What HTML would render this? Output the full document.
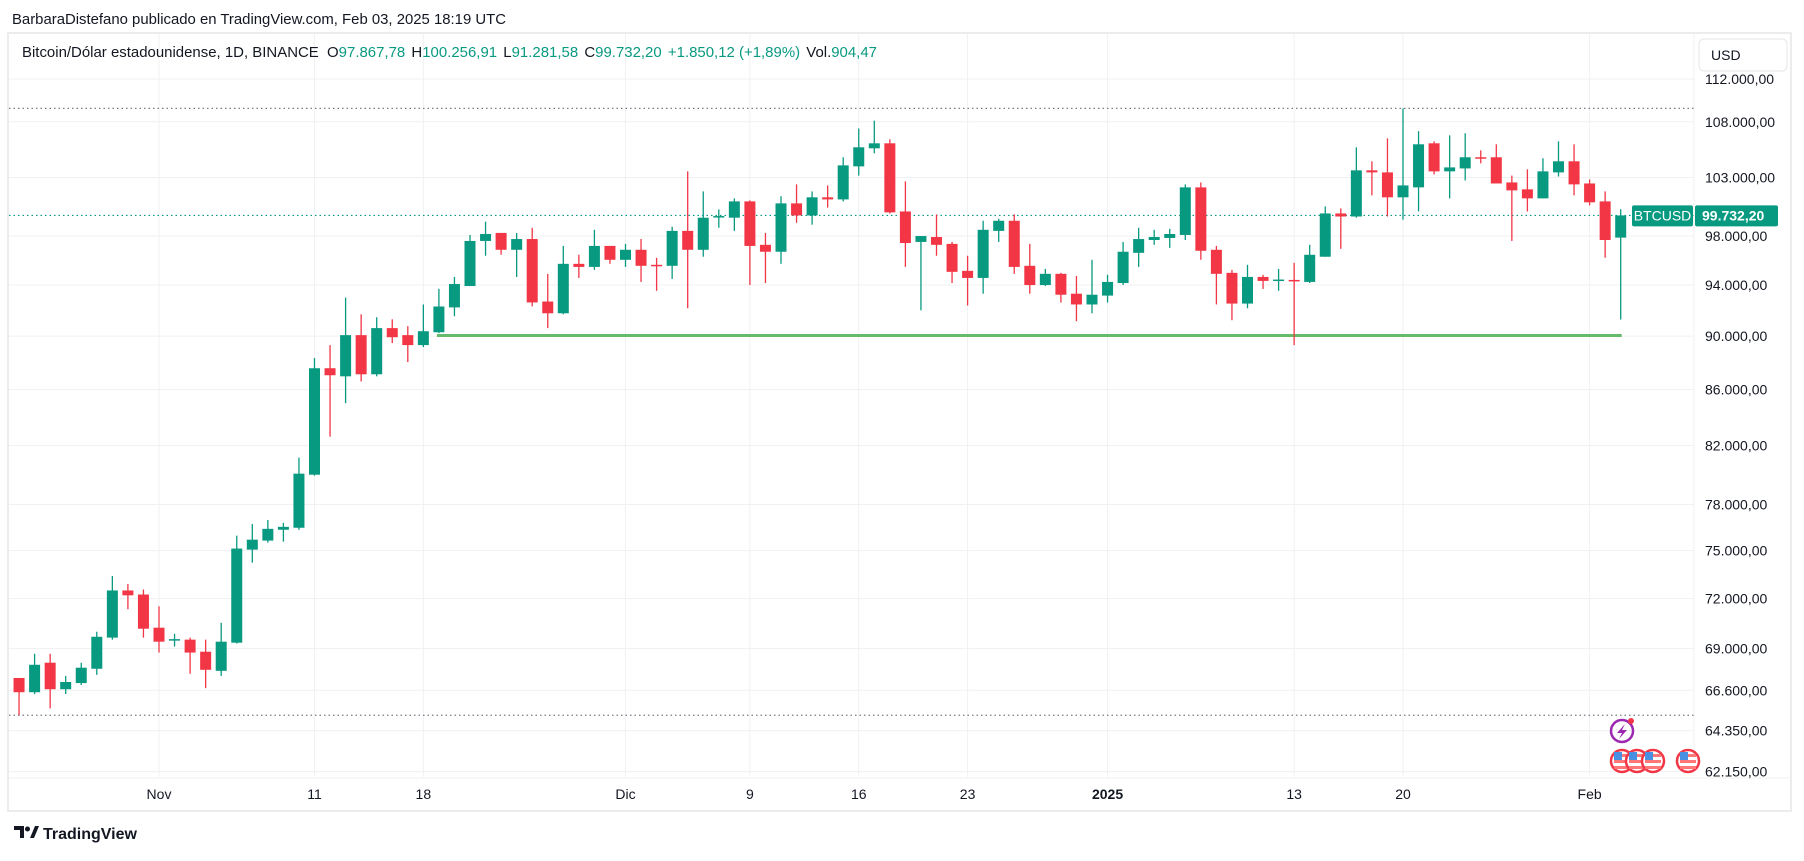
<!DOCTYPE html>
<html><head><meta charset="utf-8">
<style>
html,body{margin:0;padding:0;background:#fff;}
body{width:1804px;height:856px;overflow:hidden;font-family:"Liberation Sans",sans-serif;}
svg text{font-family:"Liberation Sans",sans-serif;}
</style></head>
<body>
<svg id="chart" width="1804" height="856" viewBox="0 0 1804 856" xmlns="http://www.w3.org/2000/svg">
<rect x="0" y="0" width="1804" height="856" fill="#fff"/>
<text x="12" y="24" font-size="14.5" fill="#131722" textLength="494" lengthAdjust="spacingAndGlyphs">BarbaraDistefano publicado en TradingView.com, Feb 03, 2025 18:19 UTC</text>
<rect x="8" y="33" width="1783" height="778" fill="none" stroke="#ececec" stroke-width="2"/>
<g id="grid"></g>
<defs><clipPath id="plotclip"><rect x="9" y="34" width="1685" height="743"/></clipPath></defs>
<g id="plot" clip-path="url(#plotclip)"></g>
<g id="yaxis"></g>
<g id="xaxis"></g>
<text x="22" y="57" font-size="14.5" fill="#131722" textLength="855" lengthAdjust="spacingAndGlyphs">Bitcoin/Dólar estadounidense, 1D, BINANCE <tspan dx="4">O</tspan><tspan fill="#089981">97.867,78</tspan><tspan dx="6">H</tspan><tspan fill="#089981">100.256,91</tspan><tspan dx="6">L</tspan><tspan fill="#089981">91.281,58</tspan><tspan dx="6">C</tspan><tspan fill="#089981">99.732,20</tspan><tspan dx="6" fill="#089981">+1.850,12 (+1,89%)</tspan><tspan dx="6">Vol.</tspan><tspan fill="#089981">904,47</tspan></text>
<g>
<rect x="1699" y="39" width="88" height="32" rx="5" fill="#fff" stroke="#e6e6e6"/>
<text x="1711" y="60" font-size="14" fill="#131722">USD</text>
</g>
<g>
<circle cx="1622" cy="731" r="11" fill="none" stroke="#9c27b0" stroke-width="2.5"/>
<path d="M1625 724 L1617 733 L1622 733 L1619 739 L1627 730 L1622 730 Z" fill="#9c27b0"/>
<circle cx="1631" cy="721" r="3" fill="#f23645"/>
</g>
<g id="flags"></g>
<g>
<path d="M14 826 h10 v12 h-4 v-8 h-6 z" fill="#131722"/><circle cx="27.5" cy="829" r="2.5" fill="#131722"/><path d="M30 838 l5 -12 h4 l-5 12 z" fill="#131722"/>
<text x="43" y="839" font-size="16" font-weight="bold" fill="#131722">TradingView</text>
</g>
</svg>
<script>
const priceTicks=[112000,108000,103000,98000,94000,90000,86000,82000,78000,75000,72000,69000,66600,64350,62150];
const dateTickDays=[0,10,17,30,38,45,52,61,73,80,92];
const dateTickLabels=['Nov','11','18','Dic','9','16','23','2025','13','20','Feb'];
const firstDay=-9;
const opens=[67300,66490,68180,66660,67010,67830,69650,72500,72250,
70240,69530,69530,68820,67710,69350,75060,75640,76340,76470,
80000,87580,86980,90080,87130,90620,90080,89320,90300,92230,
93920,97590,98260,96860,97750,92690,91770,95710,95460,97180,
96040,96860,95630,95550,98430,96860,99640,99540,100930,97270,
96700,100760,99730,101280,101100,103980,105590,106040,100070,97510,
97920,97350,95140,94570,98430,99280,95550,94000,94900,93310,
92460,93160,94160,96610,97670,97840,98090,102140,96860,94980,
92530,94650,94410,94410,94250,96290,99900,99640,103630,103450,
101280,102140,106040,103540,103800,104790,104790,102570,101970,101190,
103450,104430,102480,100930,97867.78];
const highs=[67300,68700,68700,67420,68180,70000,73400,72900,72560,
71530,69880,69650,69530,70530,75960,76720,76980,76790,81170,
88340,89320,93000,91690,91460,91300,90770,92460,93700,94650,
98090,99200,98260,98260,98690,94900,97180,96450,98520,97180,
97350,97750,96200,98780,103540,101790,100240,101190,101020,98260,
101370,102400,101790,102310,104790,107380,108100,106400,102660,98000,
99820,97510,96370,99280,99450,99820,97350,95300,94980,94730,
96040,94820,97510,98690,98520,98600,102400,102570,97180,95220,
95630,94820,95300,95790,97270,100500,100330,105680,104430,106490,
109240,107140,106220,106760,106950,105410,105950,103170,103720,104700,
106220,105950,102830,101790,100256.91];
const lows=[65200,66385,65580,66390,66900,67480,69530,71350,69650,
68770,69120,67540,66720,67420,69300,74230,75510,75570,76340,
79930,82630,85020,86600,86980,89470,88040,89170,90230,91540,
93920,96370,96450,94650,92310,90620,91690,94570,95220,95710,
95460,94250,93540,94490,92160,96290,98690,98430,94000,94160,
95710,99110,98950,100400,100930,103170,105140,99900,95460,92000,
96370,94160,92380,93310,97510,94900,93310,93920,92610,91150,
91770,92610,94000,95460,97270,97020,97670,96040,92460,91230,
92160,93690,93540,89320,94160,96290,96940,99540,101450,99640,
99370,100070,103270,101190,102740,104250,102480,97590,100070,101190,
103090,101450,100590,96210,91281.58];
const closes=[66490,68060,66660,67070,67890,69700,72500,72200,70180,
69410,69560,68770,67770,69410,75130,75700,76400,76530,80070,
87580,87060,90080,87130,90620,89920,89320,90380,92300,94080,
97590,98170,96860,97750,92620,91770,95710,95460,97180,96040,
96860,95550,95550,98430,96860,99540,99680,100930,97180,96700,
100760,99730,101280,101100,104070,105680,106040,99990,97420,98000,
97270,95060,94570,98520,99280,95460,94000,94900,93230,92460,
93230,94250,96700,97750,97920,98170,102140,96780,94900,92530,
94650,94330,94440,94330,96450,99900,99640,103630,103450,101280,
102310,105950,103540,103890,104790,104780,102480,101880,101190,103540,
104430,102400,100850,97670,99732.20];
const supportLevel=90050;
const supportStartIdx=27, supportEndIdx=103;

const NS='http://www.w3.org/2000/svg';
const PLOT_L=9, PLOT_R=1694, PLOT_T=34, PLOT_B=777;
const X0=159, DAYW=15.55, Y0=79, YTOP=112000, YK=1176;
function xDay(d){return X0+d*DAYW;}
function xIdx(i){return xDay(firstDay+i);}
function yP(p){return Y0+(Math.log(YTOP)-Math.log(p))*YK;}
function mk(tag,attrs,parent){const e=document.createElementNS(NS,tag);for(const k in attrs)e.setAttribute(k,attrs[k]);parent.appendChild(e);return e;}
function fmt(p){const parts=p.toFixed(2).split('.');return parts[0].replace(/\B(?=(\d{3})+(?!\d))/g,'.')+','+parts[1];}
const grid=document.getElementById('grid'),plot=document.getElementById('plot'),yax=document.getElementById('yaxis'),xax=document.getElementById('xaxis');

priceTicks.forEach(p=>{const y=yP(p);
 const g=mk('line',{x1:PLOT_L,x2:PLOT_R,y1:y,y2:y,stroke:'#f0f1f3','stroke-width':1},grid);
 
 
 const t=mk('text',{x:1705,y:y+5,'font-size':14,fill:'#131722'},yax);
 t.textContent=fmt(p);
 
 
});
dateTickDays.forEach((d,i)=>{const x=xDay(d);
 const g=mk('line',{x1:x,x2:x,y1:PLOT_T,y2:PLOT_B,stroke:'#f0f1f3','stroke-width':1},grid);
 
 
 const t=mk('text',{x:x,y:799,'font-size':14,fill:'#131722','text-anchor':'middle','font-weight':dateTickLabels[i]==='2025'?'bold':'normal'},xax);
 t.textContent=dateTickLabels[i];
 
 
});
mk('line',{x1:PLOT_R,x2:PLOT_R,y1:PLOT_T,y2:PLOT_B,stroke:'#f0f1f3'},grid);
mk('line',{x1:PLOT_L,x2:1791,y1:PLOT_B+1,y2:PLOT_B+1,stroke:'#f0f1f3'},grid);

const maxH=Math.max(...highs),minL=Math.min(...lows);
[maxH,minL].forEach(p=>{const y=yP(p);
 const l=mk('line',{x1:PLOT_L,x2:PLOT_R,y1:y,y2:y,stroke:'#787b86','stroke-width':1.2,'stroke-dasharray':'1.5 3'},plot);
 
 
});
const last=closes[closes.length-1];
const cl=mk('line',{x1:PLOT_L,x2:PLOT_R,y1:yP(last),y2:yP(last),stroke:'#089981','stroke-width':1.2,'stroke-dasharray':'1.5 3'},plot);



const sl=mk('line',{x1:xIdx(supportStartIdx)-2,x2:xIdx(supportEndIdx)+1,y1:yP(supportLevel),y2:yP(supportLevel),stroke:'#66bb6a','stroke-width':3},plot);



for(let i=0;i<opens.length;i++){
 const up=closes[i]>=opens[i];const col=up?'#089981':'#f23645';const x=xIdx(i);
 const g=mk('g',{},plot);
 
 
 mk('line',{x1:x,x2:x,y1:yP(highs[i]),y2:yP(lows[i]),stroke:col,'stroke-width':1.3},g);
 const top=yP(Math.max(opens[i],closes[i])),bot=yP(Math.min(opens[i],closes[i]));
 mk('rect',{x:x-5.5,y:top,width:11,height:Math.max(1.5,bot-top),fill:col},g);
}

const ly=yP(last);
const lb=mk('g',{},document.getElementById('chart'));


mk('rect',{x:1632,y:ly-10,width:61,height:21,rx:2,fill:'#089981'},lb);
mk('rect',{x:1695,y:ly-10,width:83,height:21,rx:2,fill:'#089981'},lb);
const t1=mk('text',{x:1662.5,y:ly+5,'font-size':14,fill:'#fff','text-anchor':'middle'},lb);t1.textContent='BTCUSD';
const t2=mk('text',{x:1702,y:ly+5,'font-size':14,fill:'#fff','font-weight':'bold'},lb);t2.textContent=fmt(last);

const flags=document.getElementById('flags');
[1622,1637,1653,1688].forEach(cx=>{
 const c=mk('g',{},flags);
 
 
 mk('circle',{cx:cx,cy:761,r:11,fill:'#fff',stroke:'#f23645','stroke-width':2.5},c);
 mk('rect',{x:cx-8,y:754,width:16,height:3,fill:'#f77'},c);
 mk('rect',{x:cx-8,y:760,width:16,height:3,fill:'#f77'},c);
 mk('rect',{x:cx-8,y:766,width:16,height:3,fill:'#f77'},c);
 mk('rect',{x:cx-8,y:752,width:8,height:8,fill:'#4a90e2'},c);
});
</script>
</body></html>
